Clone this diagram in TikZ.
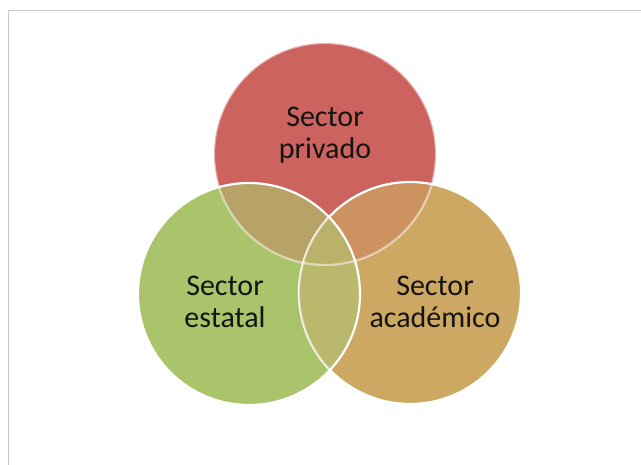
\documentclass[tikz,border=0pt]{standalone}
\usepackage{fontspec}
\setmainfont{Carlito}
\usepackage{xcolor}
\usetikzlibrary{positioning}

\definecolor{privado}{RGB}{205,99,94}
\definecolor{estatal}{RGB}{169,196,106}
\definecolor{academico}{RGB}{205,168,98}
\definecolor{privEst}{RGB}{183,163,103}
\definecolor{privAcad}{RGB}{204,147,96}
\definecolor{estAcad}{RGB}{185,184,108}
\definecolor{todos}{RGB}{186,178,105}

\begin{document}
\begin{tikzpicture}[x=1pt, y=1pt,
  sector label/.style={font=\fontsize{30}{32}\selectfont, align=center, inner sep=0pt, text=black!92},
  ring/.style={draw=white, line width=2.2pt}]
\useasboundingbox (0,0) rectangle (641,465);
\coordinate (P) at (325,311);
\coordinate (E) at (249,171);
\coordinate (A) at (410,172);
\def\rad{111}
\draw[color=black!22, line width=1.6pt] (8.5,0) -- (8.5,454.5) -- (641,454.5);
% fills
\fill[privado] (P) circle (\rad);
\fill[estatal] (E) circle (\rad);
\fill[academico] (A) circle (\rad);
\begin{scope}
\clip (P) circle (\rad);
\fill[privEst] (E) circle (\rad);
\fill[privAcad] (A) circle (\rad);
\end{scope}
\begin{scope}
\clip (E) circle (\rad);
\fill[estAcad] (A) circle (\rad);
\clip (P) circle (\rad);
\fill[todos] (A) circle (\rad);
\end{scope}
% outlines
\draw[ring] (A) circle (\rad);
\begin{scope}
\clip (E) circle (\rad);
\fill[estAcad] (A) circle (\rad);
\clip (P) circle (\rad);
\fill[todos] (A) circle (\rad);
\end{scope}
\begin{scope}
\clip (E) circle (\rad);
\draw[ring, draw opacity=0.5] (A) circle (\rad);
\end{scope}
\draw[ring, draw opacity=0.5] (P) circle (\rad);
\draw[ring] (E) circle (\rad);
% labels
\node[sector label] (privadoLbl) at (325,330) {Sector\\privado};
\node[sector label] (estatalLbl) at (225,163) {Sector\\estatal};
\node[sector label] (academicoLbl) at (435,163) {Sector\\académico};
\end{tikzpicture}
\end{document}
